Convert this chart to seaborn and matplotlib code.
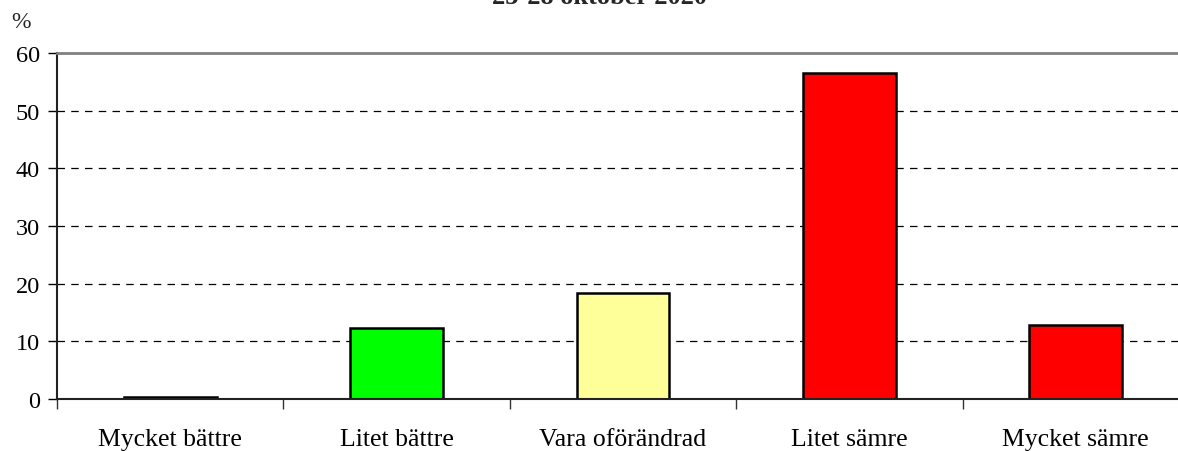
import matplotlib
matplotlib.use("Agg")
import matplotlib.pyplot as plt
import seaborn as sns
import pandas as pd

categories = ["Mycket bättre", "Litet bättre", "Vara oförändrad", "Litet sämre", "Mycket sämre"]
values = [0.4, 12.3, 18.4, 56.5, 12.8]
colors = ["#000000", "#00FF00", "#FFFF99", "#FF0000", "#FF0000"]
yticks = [0, 10, 20, 30, 40, 50, 60]
title = "23-28 oktober 2020"

sns.set_theme(style="white")
plt.rcParams['font.family'] = ['Liberation Serif', 'DejaVu Serif']

df = pd.DataFrame({"cat": categories, "val": values})

fig = plt.figure(figsize=(11.78, 4.52), dpi=100)
ax = fig.add_axes([57/1178, 1-400/452, (1189-57)/1178, (400-54)/452])

sns.barplot(data=df, x="cat", y="val", hue="cat", palette=colors, legend=False,
            width=0.41, edgecolor="black", linewidth=1.8, saturation=1, ax=ax)

ax.set_xlim(-0.5, 4.5)
ax.set_ylim(0, 60)
ax.set_yticks(yticks)
ax.set_yticklabels([str(t) for t in yticks], fontsize=17.5, color="black")
ax.set_xlabel("")
ax.set_ylabel("")
ax.set_xticks(range(len(categories)))
ax.set_xticklabels(categories, fontsize=18.5, color="black")
ax.tick_params(axis="x", length=0, pad=21)
ax.tick_params(axis="y", length=6.5, width=1, color="black", direction="out", pad=6, left=True)

# category separators
ax.set_xticks([-0.5, 0.5, 1.5, 2.5, 3.5, 4.5], minor=True)
ax.tick_params(axis="x", which="minor", length=7, width=1, color="#333333", direction="out", bottom=True)

for y in yticks[1:-1]:
    ax.axhline(y, color="black", linestyle=(0, (6, 5)), linewidth=0.9, zorder=0)

for s in ["left", "bottom"]:
    ax.spines[s].set_color("#222222")
    ax.spines[s].set_linewidth(1.5)
ax.spines["top"].set_color("#808080")
ax.spines["top"].set_linewidth(2)
ax.spines["right"].set_visible(False)

fig.text(600/1178, 1-(-3)/452, title, ha="center", va="center", fontsize=19, fontweight="bold")
fig.text(21/1178, 1-23/452, "%", ha="center", va="center", fontsize=17)

fig.savefig("out.png", dpi=100)
